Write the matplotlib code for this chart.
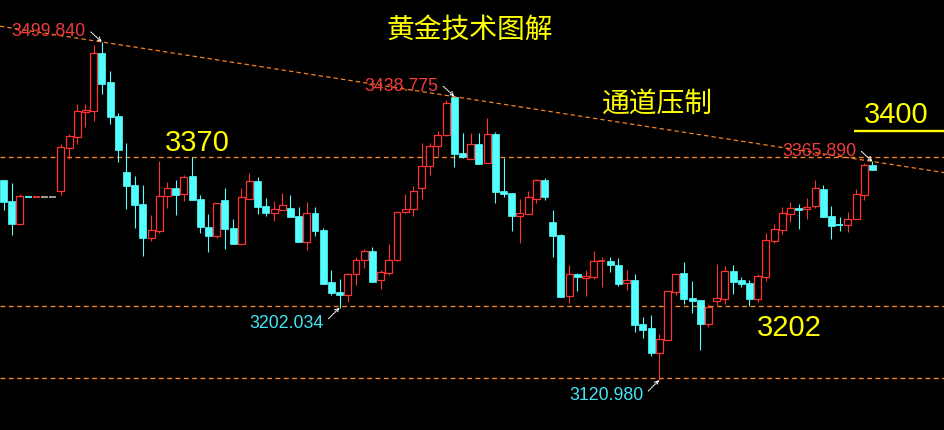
import matplotlib.pyplot as plt
from matplotlib.patches import Rectangle

plt.rcParams['font.family'] = ['Liberation Sans', 'Noto Sans CJK SC', 'DejaVu Sans']

# ============ 数据 (K线: 开/高/低/收) ============
opens = [
    3345.1, 3321.6, 3296.2, 3326.6, 3326.4, 3326.5, 3326.5, 3333.1, 3381.3, 3393.7,
    3421.7, 3422.8, 3487.5, 3455.0, 3416.9, 3354.1, 3339.5, 3318.2, 3280.5, 3287.6,
    3326.9, 3336.2, 3329.1, 3349.6, 3323.8, 3292.5, 3282.7, 3322.7, 3291.3, 3273.7,
    3324.2, 3344.0, 3316.0, 3308.5, 3311.9, 3313.8, 3304.8, 3276.0, 3308.2, 3289.1,
    3230.8, 3219.6, 3216.6, 3239.4, 3255.1, 3265.6, 3232.7, 3240.6, 3255.1, 3308.9,
    3312.3, 3335.8, 3360.5, 3382.9, 3395.2, 3437.8, 3375.1, 3369.0, 3385.5, 3364.5,
    3396.7, 3332.8, 3330.6, 3305.1, 3307.4, 3324.2, 3345.1, 3298.1, 3283.5, 3215.5,
    3239.8, 3235.0, 3236.7, 3253.6, 3254.3, 3249.9, 3229.4, 3233.1, 3183.7, 3179.2,
    3151.6, 3166.1, 3219.9, 3240.9, 3212.9, 3210.6, 3184.1, 3209.9, 3212.1, 3243.1,
    3233.1, 3229.7, 3212.1, 3236.7, 3277.1, 3289.4, 3307.4, 3313.8, 3312.3, 3316.3,
    3335.1, 3304.8, 3295.0, 3295.0, 3301.8, 3328.7, 3362.0,
]
highs = [
    3345.1, 3341.8, 3329.4, 3326.6, 3326.6, 3326.5, 3326.5, 3385.5, 3396.7, 3430.3,
    3430.3, 3496.5, 3499.84, 3467.3, 3420.2, 3386.6, 3349.6, 3339.5, 3305.9, 3366.4,
    3342.9, 3345.1, 3350.7, 3370.9, 3328.3, 3307.0, 3319.5, 3336.2, 3301.4, 3336.2,
    3353.0, 3348.5, 3325.0, 3322.0, 3330.6, 3328.3, 3314.9, 3320.5, 3314.9, 3291.3,
    3244.3, 3234.2, 3241.2, 3258.5, 3267.5, 3270.0, 3243.9, 3273.7, 3309.2, 3329.4,
    3338.1, 3386.3, 3386.3, 3399.7, 3434.8, 3438.775, 3398.2, 3397.5, 3397.8, 3414.6,
    3398.9, 3370.1, 3330.9, 3324.2, 3332.8, 3346.3, 3347.4, 3311.5, 3285.0, 3249.9,
    3240.9, 3244.3, 3265.6, 3258.8, 3258.8, 3257.7, 3244.3, 3239.8, 3191.6, 3193.8,
    3172.5, 3221.0, 3240.1, 3253.2, 3231.9, 3211.0, 3206.2, 3251.0, 3248.7, 3249.9,
    3236.4, 3233.1, 3239.8, 3285.7, 3295.8, 3314.9, 3320.5, 3318.2, 3325.0, 3345.1,
    3339.5, 3316.0, 3304.0, 3309.6, 3335.1, 3364.2, 3365.89,
]
lows = [
    3311.5, 3283.8, 3295.0, 3326.4, 3326.4, 3326.5, 3326.5, 3328.7, 3369.0, 3385.8,
    3404.9, 3411.6, 3441.9, 3408.2, 3365.6, 3313.0, 3291.7, 3260.3, 3277.1, 3286.0,
    3314.1, 3306.2, 3321.9, 3322.5, 3286.1, 3264.8, 3280.5, 3268.1, 3273.2, 3273.2,
    3323.8, 3307.4, 3305.1, 3299.5, 3311.5, 3303.6, 3275.6, 3267.0, 3282.7, 3228.5,
    3216.6, 3202.034, 3208.7, 3227.8, 3246.8, 3230.7, 3223.3, 3238.3, 3254.8, 3308.6,
    3305.1, 3323.5, 3350.4, 3371.7, 3394.8, 3360.0, 3370.2, 3368.6, 3363.0, 3364.1,
    3319.7, 3326.4, 3288.3, 3274.9, 3307.0, 3319.7, 3323.1, 3259.2, 3214.0, 3207.6,
    3221.1, 3215.5, 3234.5, 3225.5, 3242.4, 3226.7, 3222.2, 3175.1, 3168.4, 3148.2,
    3120.98, 3165.8, 3216.6, 3206.5, 3196.4, 3154.9, 3180.7, 3205.4, 3206.5, 3217.7,
    3225.5, 3204.2, 3208.7, 3232.3, 3274.9, 3285.0, 3298.4, 3290.6, 3301.8, 3314.1,
    3303.6, 3279.3, 3288.3, 3287.2, 3301.4, 3323.1, 3356.3,
]
closes = [
    3320.8, 3296.2, 3327.2, 3326.4, 3326.6, 3326.5, 3326.5, 3382.1, 3394.5, 3422.5,
    3423.6, 3487.5, 3453.1, 3416.1, 3379.1, 3338.8, 3317.5, 3280.5, 3289.1, 3327.2,
    3335.8, 3328.7, 3348.2, 3323.1, 3292.8, 3282.7, 3319.0, 3290.6, 3273.7, 3326.1,
    3344.0, 3315.2, 3308.5, 3312.6, 3317.1, 3304.0, 3276.0, 3308.2, 3288.3, 3228.9,
    3218.8, 3216.6, 3239.4, 3255.1, 3265.2, 3231.1, 3241.7, 3255.1, 3308.9, 3312.3,
    3332.5, 3360.5, 3382.9, 3395.2, 3431.1, 3374.6, 3370.6, 3385.2, 3363.4, 3396.7,
    3332.0, 3329.8, 3305.1, 3307.8, 3325.7, 3345.1, 3326.1, 3282.7, 3214.3, 3239.8,
    3236.1, 3237.5, 3254.3, 3254.3, 3250.2, 3228.9, 3233.1, 3182.9, 3177.3, 3151.6,
    3166.9, 3220.7, 3239.8, 3212.1, 3209.9, 3184.1, 3202.8, 3212.9, 3243.1, 3231.1,
    3228.9, 3212.1, 3237.5, 3277.9, 3290.2, 3308.2, 3313.8, 3311.5, 3314.9, 3336.2,
    3304.0, 3293.9, 3293.9, 3301.8, 3329.4, 3362.0, 3356.7,
]

level_lines = [3370.6, 3203.6, 3123.2]   # 水平虚线
trend_idx = [12, 106]                    # 通道上轨经过的两个高点
high_marks = [12, 55, 106]               # 标注的高点
low_marks = [41, 80]                     # 标注的低点

UP = '#FF3232'
DOWN = '#54FFFF'
FLAT = '#A8A8A8'
ORANGE = '#F58220'
YELLOW = '#FFFF00'

# ============ 画布 ============
fig = plt.figure(figsize=(9.45, 4.3), dpi=100, facecolor='black')
ax = fig.add_axes([0, 0, 1, 1])
ax.set_facecolor('black')
ax.set_axis_off()
ax.set_xlim(-0.427, 114.85)
ax.set_ylim(3064.9, 3546.9)

w = 0.85
for i, (o, h, l, c) in enumerate(zip(opens, highs, lows, closes)):
    color = UP if c > o else (DOWN if c < o else FLAT)
    ax.vlines(i, l, h, color=color, lw=0.8, zorder=2)
    if abs(c - o) < 1.2:
        ax.hlines((o + c) / 2, i - w / 2, i + w / 2, color=color, lw=1.3, zorder=3)
    elif c > o:
        ax.add_patch(Rectangle((i - w / 2, o), w, c - o, facecolor='black',
                               edgecolor=UP, lw=0.9, zorder=3))
    else:
        ax.add_patch(Rectangle((i - w / 2, c), w, o - c, facecolor=DOWN,
                               edgecolor=DOWN, lw=0.5, zorder=3))

# 水平支撑/压力线
for lv in level_lines:
    ax.axhline(lv, color=ORANGE, lw=1.0, linestyle=(0, (3.5, 2.5)), zorder=1)

# 通道上轨
ax.axline((trend_idx[0], highs[trend_idx[0]]), (trend_idx[1], highs[trend_idx[1]]),
          color=ORANGE, lw=0.9, linestyle=(0, (3.5, 2.5)), zorder=4)

arrow = dict(arrowstyle='->', color='white', lw=0.8, linestyle=(0, (1, 1)),
             shrinkA=0, shrinkB=0, mutation_scale=7)
for i in high_marks:
    ax.annotate('', xy=(i, highs[i]), xytext=(-11, 10), textcoords='offset pixels',
                arrowprops=arrow, zorder=5)
    ax.annotate(f'{highs[i]:.3f}', xy=(i, highs[i]), xytext=(-16, 5.5),
                textcoords='offset pixels', color='#F03C3C', fontsize=12.8,
                ha='right', va='baseline', zorder=5)
for i in low_marks:
    ax.annotate('', xy=(i, lows[i]), xytext=(-11, -11), textcoords='offset pixels',
                arrowprops=arrow, zorder=5)
    ax.annotate(f'{lows[i]:.3f}', xy=(i, lows[i]), xytext=(-16, -20.5),
                textcoords='offset pixels', color='#44E4F4', fontsize=12.8,
                ha='right', va='baseline', zorder=5)

# 黄色文字
ax.text(23.7, 3378.0, '3370', color=YELLOW, fontsize=21, ha='center', va='baseline')
ax.text(95.9, 3170.3, '3202', color=YELLOW, fontsize=21, ha='center', va='baseline')
ax.text(108.9, 3408.7, '3400', color=YELLOW, fontsize=21, ha='center', va='baseline')
ax.hlines(3400, 103.75, 114.85, color=YELLOW, lw=1.7)
ax.text(79.8, 3431.1, '通道压制', color=YELLOW, fontsize=20, ha='center', va='center',
        family=['Noto Sans CJK SC'])
fig.text(0.497, 0.930, '黄金技术图解', color=YELLOW, fontsize=20, ha='center', va='center',
         family=['Noto Sans CJK SC'])

fig.savefig('out.png', dpi=100, facecolor='black')
